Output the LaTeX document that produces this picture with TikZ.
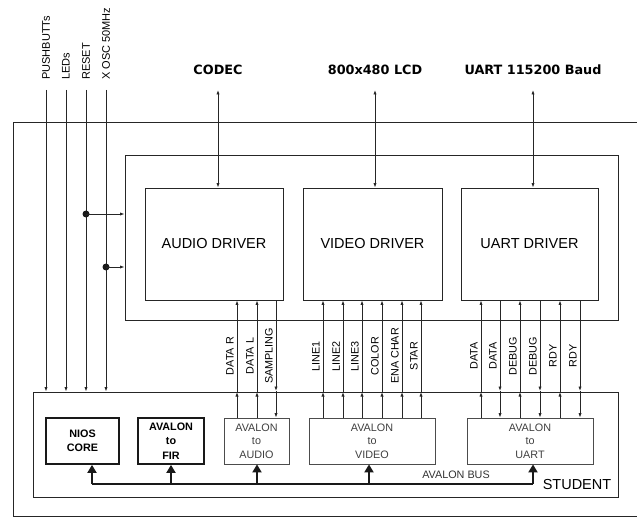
\documentclass[tikz,border=0pt]{standalone}
\usepackage{fontspec}
\setmainfont{Liberation Sans}
\newfontfamily\dejavu{DejaVu Sans}
\usetikzlibrary{arrows.meta}
\begin{document}
\begin{tikzpicture}[x=1bp,y=-1bp,
  >={Latex[length=4.5bp,width=3.2bp]},
  ln/.style={draw=black!85,line width=0.8bp},
  box/.style={draw=black!85,line width=0.9bp,rectangle,inner sep=0pt},
  boldbox/.style={draw=black!90,line width=1.8bp,rectangle,inner sep=0pt,align=center,
    font=\fontsize{10.8bp}{14.5bp}\selectfont\bfseries},
  avbox/.style={draw=black!70,line width=0.8bp,rectangle,inner sep=0pt,align=center,
    text=black!75,font=\fontsize{10.8bp}{13.5bp}\selectfont},
  drvtext/.style={font=\fontsize{14.5bp}{16bp}\selectfont},
  siglabel/.style={rotate=90,inner sep=0pt,font=\fontsize{10.8bp}{12bp}\selectfont},
  pinlabel/.style={rotate=90,anchor=west,inner sep=0pt,font=\fontsize{11bp}{12bp}\selectfont},
  toplabel/.style={inner sep=0pt,font=\dejavu\bfseries\fontsize{12.8bp}{14bp}\selectfont},
  bus/.style={line width=1.8bp,draw=black!90},
  busarrow/.style={bus,-{Triangle[length=8bp,width=9bp]}},
]
\useasboundingbox (0,0) rectangle (637,518);
\fill[white] (0,0) rectangle (637,518);

% board frame (open to the right)
\draw[ln] (645,122) -- (13,122) -- (13,516.5) -- (645,516.5);

% FPGA driver area
\node[box,minimum width=493bp,minimum height=165bp] (fpga) at (371.5,237.5) {};
\node[box,drvtext,minimum width=138bp,minimum height=112bp] (audio) at (214,244) {AUDIO DRIVER};
\node[box,drvtext,minimum width=139bp,minimum height=112bp] (video) at (372.5,244) {VIDEO DRIVER};
\node[box,drvtext,minimum width=137bp,minimum height=112bp] (uart) at (529.5,244) {UART DRIVER};

% student area
\node[box,minimum width=585bp,minimum height=105bp] (student) at (325.5,444.5) {};
\node[drvtext,inner sep=0pt] (stlabel) at (577,485) {STUDENT};
\node[boldbox,minimum width=73bp,minimum height=46bp] (nios) at (82.5,441) {NIOS\\CORE};
\node[boldbox,minimum width=66bp,minimum height=46bp] (fir) at (171,441) {AVALON\\to\\FIR};
\node[avbox,minimum width=65bp,minimum height=46bp] (avaudio) at (256.5,441) {AVALON\\to\\AUDIO};
\node[avbox,minimum width=126bp,minimum height=46bp] (avvideo) at (372,441) {AVALON\\to\\VIDEO};
\node[avbox,minimum width=126bp,minimum height=46bp] (avuart) at (530,441) {AVALON\\to\\UART};

% top external interfaces
\node[toplabel] (codec) at (218,70) {CODEC};
\node[toplabel] (lcd) at (375,70) {800x480 LCD};
\node[toplabel] (uartext) at (533,70) {UART 115200 Baud};
\coordinate (ca) at (218,90);
\coordinate (la) at (375,90);
\coordinate (ua) at (533,90);
\draw[ln,<->] (ca) -- (ca |- audio.north);
\draw[ln,<->] (la) -- (la |- video.north);
\draw[ln,<->] (ua) -- (ua |- uart.north);

% pins on the left
\foreach \x/\lab [count=\i] in {46/PUSHBUTTs,66/LEDs,86/RESET,106/X OSC 50MHz}{
  \node[pinlabel] (pl\i) at (\x,80) {\lab};
  \coordinate (p\i) at (\x,90);
  \draw[ln,->] (p\i) -- (p\i |- student.north);
}
\node[circle,fill=black!90,inner sep=0pt,minimum size=7bp] (d1) at (86,214) {};
\node[circle,fill=black!90,inner sep=0pt,minimum size=7bp] (d2) at (106,267) {};
\draw[ln,->] (d1.center) -- (d1 -| fpga.west);
\draw[ln,->] (d2.center) -- (d2 -| fpga.west);

% upward signals (module -> driver)
\foreach \x/\lab/\src/\dst in {237/DATA R/avaudio/audio,257/DATA L/avaudio/audio,
   323/LINE1/avvideo/video,343/LINE2/avvideo/video,362/LINE3/avvideo/video,
   382/COLOR/avvideo/video,402/ENA CHAR/avvideo/video,421/STAR/avvideo/video,
   481/DATA/avuart/uart,520/DEBUG/avuart/uart,560/RDY/avuart/uart}{
  \coordinate (sx) at (\x,392);
  \draw[ln,->] (sx |- \src.north) -- (sx);
  \draw[ln,->] (sx) -- (sx |- \dst.south);
  \node[siglabel] at (\x-7,356) {\lab};
}
% downward signals (driver -> module)
\foreach \x/\lab/\src/\dst in {276/SAMPLING/audio/avaudio,
   500/DATA/uart/avuart,540/DEBUG/uart/avuart,580/RDY/uart/avuart}{
  \coordinate (sx) at (\x,391);
  \draw[ln,->] (sx |- \src.south) -- (sx);
  \draw[ln,->] (sx) -- (sx |- \dst.north);
  \node[siglabel] at (\x-7,356) {\lab};
}

% Avalon bus
\coordinate (b1) at (92,484);
\coordinate (b2) at (171,484);
\coordinate (b3) at (257,484);
\coordinate (b4) at (369,484);
\coordinate (b5) at (533,484);
\draw[bus] (b1) -- (b5);
\draw[busarrow] (b1) -- (b1 |- nios.south);
\draw[busarrow] (b2) -- (b2 |- fir.south);
\draw[busarrow] (b3) -- (b3 |- avaudio.south);
\draw[busarrow] (b4) -- (b4 |- avvideo.south);
\draw[busarrow] (b5) -- (b5 |- avuart.south);
\node[inner sep=0pt,text=black!80,font=\fontsize{10.8bp}{12bp}\selectfont] (buslabel) at (456,475) {AVALON BUS};
\end{tikzpicture}
\end{document}
